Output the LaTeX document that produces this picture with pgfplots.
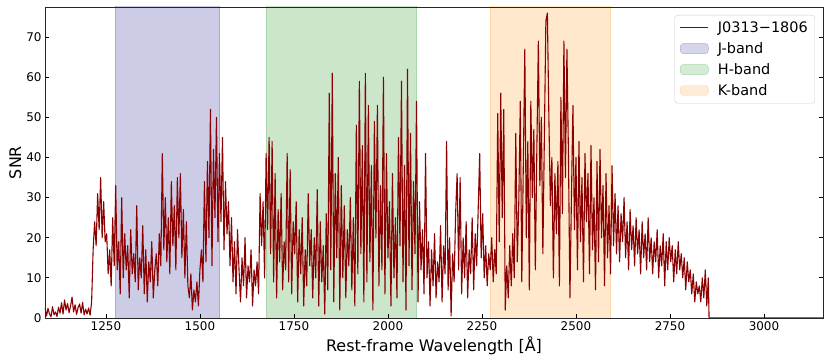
\documentclass[border=0pt]{standalone}
\usepackage{fontspec}
\setmainfont{DejaVu Sans}
\usepackage{pgfplots}
\pgfplotsset{compat=1.18}

\definecolor{specred}{RGB}{139,0,0}
\definecolor{jfill}{RGB}{204,204,230}
\definecolor{hfill}{RGB}{204,230,204}
\definecolor{kfill}{RGB}{255,232,204}
\definecolor{jedge}{RGB}{170,170,212}
\definecolor{hedge}{RGB}{170,212,170}
\definecolor{kedge}{RGB}{255,216,170}

\pgfplotsset{
    lineleg/.style={legend image code/.code={\draw[specred, line width=1.2bp] (0bp,0bp) -- (28bp,0bp);}},
    jleg/.style={legend image code/.code={\draw[fill=jfill, draw=jedge] (0bp,-5bp) rectangle (28bp,5bp);}},
    hleg/.style={legend image code/.code={\draw[fill=hfill, draw=hedge] (0bp,-5bp) rectangle (28bp,5bp);}},
    kleg/.style={legend image code/.code={\draw[fill=kfill, draw=kedge] (0bp,-5bp) rectangle (28bp,5bp);}},
}

\begin{document}
\begin{tikzpicture}
\begin{axis}[
    width=778bp, height=311bp, scale only axis,
    xmin=1088, xmax=3157, ymin=0, ymax=77.5,
    xtick={1250,1500,...,3000}, ytick={0,10,...,70},
    tick align=inside, xtick pos=bottom, ytick pos=both, yticklabel pos=left,
    major tick length=4bp,
    tick style={black, line width=0.8bp},
    axis line style={black!85, line width=0.8bp},
    axis on top,
    /pgf/number format/assume math mode=true,
    /pgf/number format/1000 sep={},
    tick label style={font=\fontsize{12}{14}\selectfont},
    xlabel={Rest-frame Wavelength [Å]}, ylabel={SNR},
    every axis x label/.style={at={(axis description cs:0.5,-0.1093)}, anchor=base, font=\fontsize{16}{18}\selectfont},
    every axis y label/.style={at={(axis description cs:-0.0308,0.5)}, rotate=90, anchor=base, font=\fontsize{16}{18}\selectfont},
    legend cell align=left,
    legend style={at={(0.9897,0.9743)}, anchor=north east, draw=black!20,
        rounded corners=3bp, fill=white, fill opacity=0.8, text opacity=1,
        inner xsep=5bp, inner ysep=4.5bp, row sep=4.5bp, column sep=7bp,
        font=\fontsize{14.5}{16}\selectfont},
]
% observing bands
\addplot[fill=jfill, draw=jedge, forget plot] coordinates {(1275,0) (1275,100) (1550,100) (1550,0)};
\addplot[fill=hfill, draw=hedge, forget plot] coordinates {(1676,0) (1676,100) (2076,100) (2076,0)};
\addplot[fill=kfill, draw=kedge, forget plot] coordinates {(2271,0) (2271,100) (2590,100) (2590,0)};

% spectrum SNR
\addplot[specred, line width=1.1bp, line join=round, lineleg] coordinates {
(1088,2.5)(1092,0.5)(1096,2.4)(1100,1.0)(1104,0.3)(1108,2.8)(1112,0.8)(1116,1.5)
(1120,0.4)(1124,2.7)(1128,1.2)(1132,3.8)(1136,1.0)(1140,4.5)(1144,2.0)(1148,3.6)
(1152,1.3)(1156,3.0)(1160,5.2)(1164,1.5)(1168,3.3)(1172,0.9)(1176,2.6)(1180,3.5)
(1184,1.2)(1188,3.9)(1192,0.8)(1196,2.2)(1200,1.0)(1204,2.5)(1208,0.7)
(1212,4)(1216,17)(1220,24)(1224,18)(1228,31)(1232,22)(1236,35)(1240,20)
(1244,29)(1248,19)(1252,21)(1256,11)(1260,17)(1264,8)(1268,25)(1272,13)
(1276,33)(1280,12)(1284,19)(1288,6)(1292,30)(1296,10)(1300,21)(1304,12)
(1308,18)(1312,5)(1316,22)(1320,11)(1324,16)(1328,9)(1332,28)(1336,7)
(1340,15)(1344,10)(1348,23)(1352,6)(1356,17)(1360,4)(1364,14)(1368,9)
(1372,19)(1376,5)(1380,12)(1384,16)(1388,8)(1392,21)(1396,13)(1400,41)
(1404,17)(1408,30)(1412,14)(1416,25)(1420,11)(1424,34)(1428,18)(1432,28)
(1436,12)(1440,35)(1444,20)(1448,36)(1452,15)(1456,27)(1460,10)(1464,24)
(1468,8)(1472,5)(1476,11)(1480,2)(1484,7)(1488,4)(1492,9)(1496,3)
(1500,12)(1504,17)(1508,9)(1512,34)(1516,14)(1520,39)(1524,20)(1528,52)
(1532,13)(1536,42)(1540,25)(1544,50)(1548,19)(1552,41)(1556,24)(1560,45)
(1564,17)(1568,34)(1572,21)(1576,29)(1580,13)(1584,25)(1588,9)(1592,19)
(1596,6)(1600,22)(1604,12)(1608,4)(1612,15)(1616,8)(1620,20)(1624,5)
(1628,13)(1632,9)(1636,17)(1640,3)(1644,12)(1648,8)(1652,14)(1656,6)
(1660,31)(1664,18)(1668,29)(1672,10)(1676,41)(1680,22)(1684,45)(1688,16)
(1692,44)(1696,9)(1700,36)(1704,5)(1708,27)(1712,14)(1716,31)(1720,7)
(1724,19)(1728,12)(1732,41)(1736,9)(1740,37)(1744,6)(1748,24)(1752,16)
(1756,29)(1760,4)(1764,22)(1768,11)(1772,25)(1776,3)(1780,17)(1784,8)
(1788,31)(1792,13)(1796,22)(1800,5)(1804,20)(1808,10)(1812,32)(1816,3)
(1820,24)(1824,9)(1828,18)(1832,1)(1836,26)(1840,7)(1844,56)(1848,12)
(1852,61)(1856,4)(1860,36)(1864,15)(1868,40)(1872,2)(1876,33)(1880,10)
(1884,28)(1888,5)(1892,22)(1896,13)(1900,30)(1904,7)(1908,25)(1912,3)
(1916,48)(1920,11)(1924,59)(1928,16)(1932,43)(1936,4)(1940,61)(1944,9)
(1948,53)(1952,14)(1956,38)(1960,2)(1964,49)(1968,20)(1972,53)(1976,8)
(1980,33)(1984,12)(1988,60)(1992,6)(1996,41)(2000,15)(2004,29)(2008,3)
(2012,36)(2016,10)(2020,25)(2024,5)(2028,45)(2032,18)(2036,59)(2040,9)
(2044,38)(2048,2)(2052,62)(2056,13)(2060,46)(2064,7)(2068,34)(2072,16)
(2076,54)(2080,4)(2084,29)(2088,12)(2092,22)(2096,6)(2100,41)(2104,10)
(2108,19)(2112,3)(2116,17)(2120,8)(2124,21)(2128,5)(2132,14)(2136,9)
(2140,23)(2144,4)(2148,18)(2152,11)(2156,44)(2160,7)(2164,20)(2168,0.5)
(2172,16)(2176,9)(2180,26)(2184,36)(2188,12)(2192,35)(2196,6)(2200,20)
(2204,10)(2208,24)(2212,5)(2216,17)(2220,11)(2224,25)(2228,7)(2232,21)
(2236,13)(2240,27)(2244,41)(2248,15)(2252,26)(2256,10)(2260,18)(2264,8)
(2268,16)(2272,12)(2276,20)(2280,9)(2284,17)(2288,11)(2292,51)(2296,19)
(2300,56)(2304,25)(2308,52)(2312,2)(2316,13)(2320,5)(2324,18)(2328,8)
(2332,21)(2336,10)(2340,46)(2344,14)(2348,29)(2352,54)(2356,9)(2360,38)
(2364,67)(2368,20)(2372,44)(2376,7)(2380,54)(2384,30)(2388,47)(2392,12)
(2396,42)(2400,69)(2404,33)(2408,50)(2412,16)(2416,45)(2420,74)(2424,76)
(2428,50)(2432,28)(2436,40)(2440,10)(2444,36)(2448,21)(2452,39)(2456,8)
(2460,55)(2464,26)(2468,69)(2472,35)(2476,67)(2480,41)(2484,5)(2488,30)
(2492,53)(2496,22)(2500,40)(2504,12)(2508,44)(2512,19)(2516,35)(2520,9)
(2524,41)(2528,24)(2532,36)(2536,11)(2540,43)(2544,17)(2548,30)(2552,7)
(2556,39)(2560,14)(2564,42)(2568,20)(2572,33)(2576,8)(2580,36)(2584,15)
(2588,28)(2592,11)(2596,38)(2600,18)(2604,31)(2608,16)(2612,28)(2616,14)
(2620,26)(2624,19)(2628,30)(2632,15)(2636,24)(2640,12)(2644,27)(2648,17)
(2652,23)(2656,13)(2660,25)(2664,16)(2668,22)(2672,11)(2676,24)(2680,15)
(2684,21)(2688,12)(2692,25)(2696,14)(2700,20)(2704,11)(2708,19)(2712,14)
(2716,22)(2720,10)(2724,18)(2728,13)(2732,21)(2736,8)(2740,19)(2744,12)
(2748,20)(2752,14)(2756,18)(2760,9)(2764,17)(2768,11)(2772,19)(2776,12)
(2780,16)(2784,10)(2788,15)(2792,7)(2796,14)(2800,9)(2804,12)(2808,6)
(2812,11)(2816,4)(2820,9)(2824,6)(2828,8)(2832,4)(2836,10)(2840,5)
(2844,12)(2848,3)(2852,10)(2854,0)(3160,0)
};
\addlegendentry{J0313−1806}
\addlegendimage{jleg}
\addlegendentry{J-band}
\addlegendimage{hleg}
\addlegendentry{H-band}
\addlegendimage{kleg}
\addlegendentry{K-band}
\end{axis}
\pgfresetboundingbox
\useasboundingbox ([xshift=-45bp,yshift=-45bp]current axis.south west) rectangle ([xshift=7bp,yshift=7bp]current axis.north east);
\end{tikzpicture}
\end{document}
